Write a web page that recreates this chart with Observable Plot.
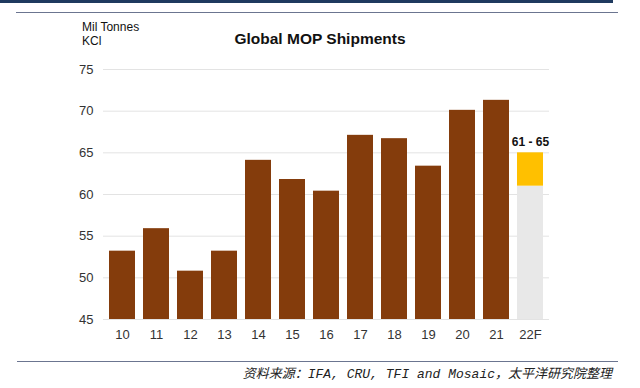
<!DOCTYPE html>
<html><head><meta charset="utf-8">
<script src="https://cdn.jsdelivr.net/npm/d3@7"></script>
<script src="https://cdn.jsdelivr.net/npm/@observablehq/plot@0.6"></script>
<style>
body{margin:0;background:#fff;}
#wrap{position:relative;width:640px;height:388px;overflow:hidden;font-family:"Liberation Sans",Arial,sans-serif;background:#fff;}
#chart{position:absolute;left:0;top:0;}
.abs{position:absolute;white-space:nowrap;}
#topband{left:0;top:0;width:613px;height:3px;background:#1F3A5F;}
#topline{left:16px;top:11.5px;width:602px;height:1px;background:#6B7590;}
#botline{left:17px;top:361px;width:601px;height:1px;background:#6B7590;}
#unit{left:82px;top:20px;font-size:12px;line-height:14px;color:#111;}
#title{left:0;width:640px;top:30px;font-size:15.5px;font-weight:bold;color:#111;}
#title span{position:absolute;left:320px;transform:translateX(-50%);}
#caption{right:28px;top:363px;font-size:13px;font-style:italic;color:#222;font-family:"Liberation Mono","Noto Sans CJK SC",monospace;}
</style></head><body>
<div id="wrap">
  <div id="chart"></div>
  <div class="abs" id="topband"></div>
  <div class="abs" id="topline"></div>
  <div class="abs" id="unit">Mil Tonnes<br>KCl</div>
  <div class="abs" id="title"><span>Global MOP Shipments</span></div>
  <div class="abs" id="botline"></div>
  <div class="abs" id="caption">资料来源：IFA, CRU, TFI and Mosaic，太平洋研究院整理</div>
</div>
<script>
const years = ["10","11","12","13","14","15","16","17","18","19","20","21","22F"];
const shipments = [53.2, 55.9, 50.8, 53.2, 64.1, 61.8, 60.4, 67.1, 66.7, 63.4, 70.1, 71.3, null];
const forecastYear = "22F";
const forecastLow = 61;
const forecastHigh = 65;
const forecastLabel = "61 - 65";
const yTicks = [45, 50, 55, 60, 65, 70, 75];

const actual = years.map((y, i) => ({year: y, value: shipments[i]})).filter(d => d.value != null);
const forecast = [{year: forecastYear, low: forecastLow, high: forecastHigh, label: forecastLabel}];

const chart = Plot.plot({
  width: 640,
  height: 388,
  marginLeft: 103,
  marginRight: 91,
  marginTop: 69,
  marginBottom: 69,
  style: {fontFamily: '"Liberation Sans", Arial, sans-serif', fontSize: "13px", color: "#333", background: "transparent"},
  x: {domain: years, paddingInner: 0.23, paddingOuter: 0.12, label: null},
  y: {domain: [45, 75], label: null},
  marks: [
    Plot.gridY(yTicks, {stroke: "#e3e3e3", strokeOpacity: 1}),
    Plot.barY(actual, {x: "year", y1: 45, y2: "value", fill: "#843C0C"}),
    Plot.barY(forecast, {x: "year", y1: 45, y2: "low", fill: "#E8E8E8"}),
    Plot.barY(forecast, {x: "year", y1: "low", y2: "high", fill: "#FFC000"}),
    Plot.text(forecast, {x: "year", y: "high", text: "label", dy: -11, fontWeight: "bold", fontSize: 12, fill: "#111"}),
    Plot.axisY({ticks: yTicks, tickSize: 0, tickPadding: 10, fontSize: 13}),
    Plot.axisX({tickSize: 0, tickPadding: 10, fontSize: 13})
  ]
});
document.getElementById("chart").appendChild(chart);
</script>
</body></html>
